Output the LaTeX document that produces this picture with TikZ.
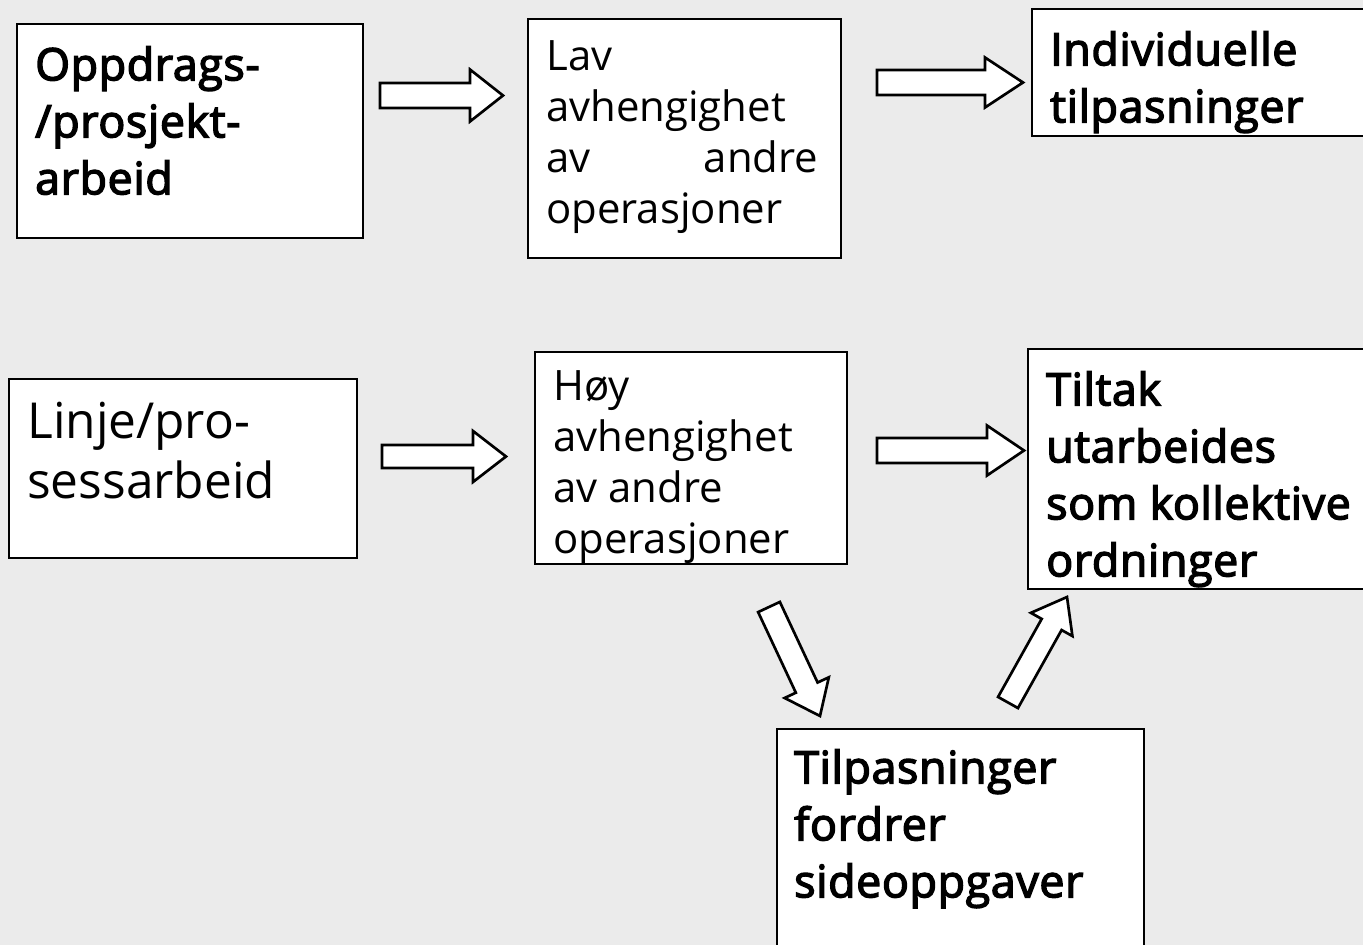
\documentclass[tikz,border=0pt]{standalone}
\usepackage{fontspec}
\setmainfont{Open Sans}
\newfontfamily\sbfont[FakeBold=3.2, LetterSpace=1.5]{Open Sans}
\usetikzlibrary{calc}
\definecolor{bgcol}{RGB}{235,235,235}
\tikzset{
  box/.style={draw=black, line width=1.8pt, fill=white, inner sep=0pt, anchor=north west},
  txt/.style={inner sep=0pt, anchor=north west, align=left, text=black},
  semib/.style={txt, font=\sbfont\fontsize{33.5pt}{42.75pt}\selectfont},
  regs/.style={txt, font=\fontsize{31.4pt}{38.25pt}\selectfont},
  regl/.style={txt, font=\fontsize{37.2pt}{45pt}\selectfont},
  barrow/.style={draw=black, fill=white, line width=2pt, line join=miter},
}
\newcommand\blockarrow[5]{%
  \coordinate (hb) at ($(#2)!#5!(#1)$);
  \draw[barrow] ($(#1)!#3!90:(#2)$) -- ($(hb)!#3!-90:(#1)$) -- ($(hb)!#4!-90:(#1)$)
    -- (#2) -- ($(hb)!#4!90:(#1)$) -- ($(hb)!#3!90:(#1)$) -- ($(#1)!#3!-90:(#2)$) -- cycle;
}
\begin{document}
\begin{tikzpicture}[x=0.75pt, y=-0.75pt]
\fill[bgcol] (0,0) rectangle (1363,945);
\useasboundingbox (0,0) rectangle (1363,945);

% boxes
\node[box, minimum width=346*0.75pt, minimum height=214*0.75pt] (oppdrag) at (16,23) {};
\node[box, minimum width=313*0.75pt, minimum height=239*0.75pt] (lav) at (527,18) {};
\node[box, minimum width=345*0.75pt, minimum height=127*0.75pt] (indiv) at (1031,8) {};
\node[box, minimum width=348*0.75pt, minimum height=179*0.75pt] (linje) at (8,378) {};
\node[box, minimum width=312*0.75pt, minimum height=212*0.75pt] (hoy) at (534,351) {};
\node[box, minimum width=350*0.75pt, minimum height=240*0.75pt] (tiltak) at (1027,348) {};
\node[box, minimum width=367*0.75pt, minimum height=240*0.75pt] (tilpas) at (776,728) {};

% texts (top = first baseline - 0.8em)
\node[semib] (t1) at (35,44.3) {\rule{0pt}{0.8em}Oppdrags-\\/prosjekt-\\arbeid};
\node[regs] (t2) at (546,36.5) {\rule{0pt}{0.8em}Lav\\avhengighet\\\makebox[204pt][s]{av andre}\\operasjoner};
\node[semib] (t3) at (1050,29.3) {\rule{0pt}{0.8em}Individuelle\\tilpasninger};
\node[regl] (t4) at (27,398.3) {\rule{0pt}{0.8em}Linje/pro-\\sessarbeid};
\node[regs] (t5) at (553,366.5) {\rule{0pt}{0.8em}Høy\\avhengighet\\av andre\\operasjoner};
\node[semib] (t6) at (1046,369.3) {\rule{0pt}{0.8em}Tiltak\\utarbeides\\som kollektive\\ordninger};
\node[semib] (t7) at (794,747.3) {\rule{0pt}{0.8em}Tilpasninger\\fordrer\\sideoppgaver};

% block arrows
\coordinate (a1t) at (380,95.5);  \coordinate (a1p) at (503,95.5);
\coordinate (a2t) at (877,82.5);  \coordinate (a2p) at (1023,82.5);
\coordinate (a3t) at (382,456.5); \coordinate (a3p) at (506,456.5);
\coordinate (a4t) at (877,450.5); \coordinate (a4p) at (1024,450.5);
\coordinate (a5t) at (769,607);   \coordinate (a5p) at (820,716);
\coordinate (a6t) at (1008,702.5);\coordinate (a6p) at (1067,597);
\blockarrow{a1t}{a1p}{9.375pt}{19.5pt}{24.75pt}
\blockarrow{a2t}{a2p}{9.375pt}{18.75pt}{28.5pt}
\blockarrow{a3t}{a3p}{8.625pt}{19.125pt}{24.75pt}
\blockarrow{a4t}{a4p}{9.375pt}{18.75pt}{27.75pt}
\blockarrow{a5t}{a5p}{9pt}{18.3pt}{23.5pt}
\blockarrow{a6t}{a6p}{8.55pt}{17.85pt}{23.6pt}
\end{tikzpicture}
\end{document}
